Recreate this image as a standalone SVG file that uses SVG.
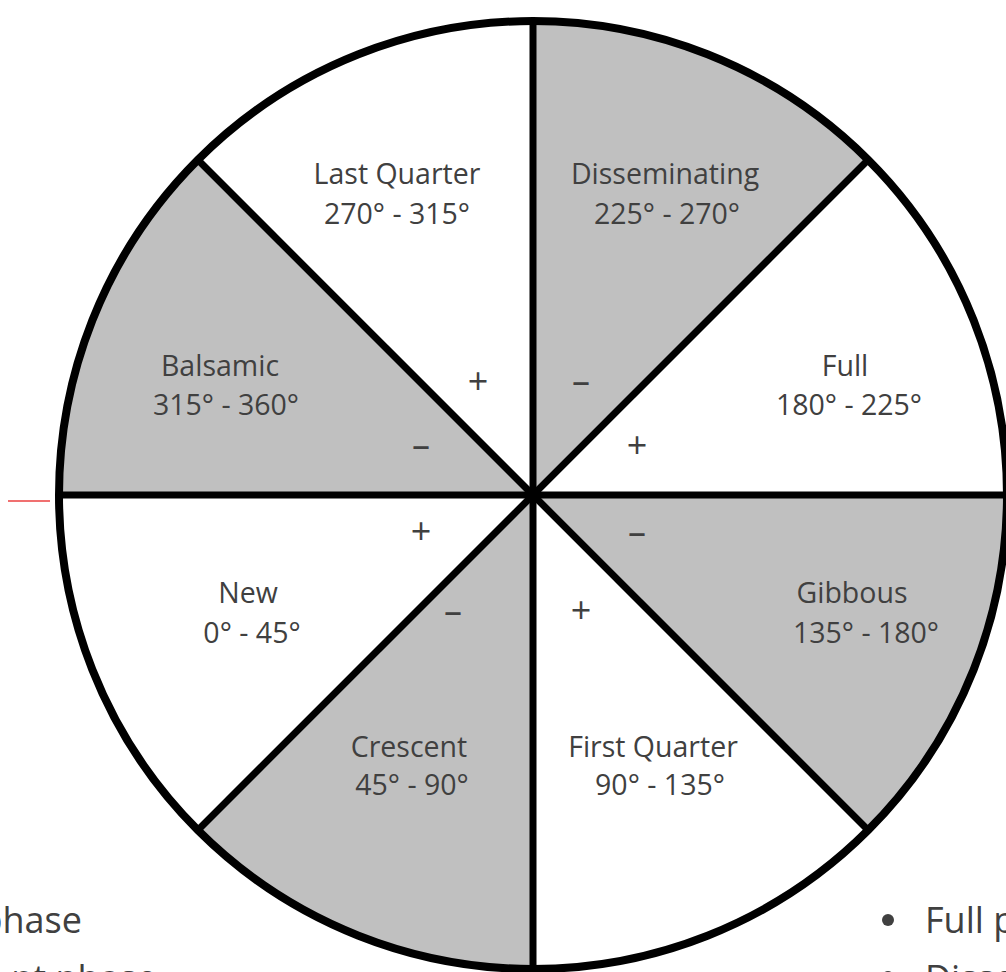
<svg xmlns="http://www.w3.org/2000/svg" width="1006" height="972" viewBox="0 0 1006 972">
<style>
.gray{fill:#c0c0c0;stroke:none}
.white{fill:#ffffff;stroke:none}
.lbl{font-family:"Open Sans","Noto Sans",sans-serif;font-size:28.5px;fill:#404040;text-anchor:middle}
.sign{font-family:"Open Sans","Noto Sans",sans-serif;font-size:36px;fill:#404040;text-anchor:middle}
.spoke{stroke:#000;stroke-width:7;fill:none}
.legend{font-family:"Open Sans","Noto Sans",sans-serif;font-size:36px;fill:#404040}
</style>
<rect x="0" y="0" width="1006" height="972" fill="#ffffff"/>
<g id="disseminating">
<path class="gray" d="M533,495 L533,21 A474,474 0 0 1 868.2,159.8 Z"/>
<text class="lbl" x="665" y="184">Disseminating</text>
<text class="lbl" x="667" y="224">225° - 270°</text>
</g>
<g id="full">
<path class="white" d="M533,495 L868.2,159.8 A474,474 0 0 1 1007,495 Z"/>
<text class="lbl" x="845" y="376">Full</text>
<text class="lbl" x="849" y="415">180° - 225°</text>
</g>
<g id="gibbous">
<path class="gray" d="M533,495 L1007,495 A474,474 0 0 1 868.2,830.2 Z"/>
<text class="lbl" x="852" y="603">Gibbous</text>
<text class="lbl" x="866" y="643">135° - 180°</text>
</g>
<g id="first-quarter">
<path class="white" d="M533,495 L868.2,830.2 A474,474 0 0 1 533,969 Z"/>
<text class="lbl" x="653" y="757">First Quarter</text>
<text class="lbl" x="660" y="795">90° - 135°</text>
</g>
<g id="crescent">
<path class="gray" d="M533,495 L533,969 A474,474 0 0 1 197.8,830.2 Z"/>
<text class="lbl" x="409" y="757">Crescent</text>
<text class="lbl" x="412" y="795">45° - 90°</text>
</g>
<g id="new">
<path class="white" d="M533,495 L197.8,830.2 A474,474 0 0 1 59,495 Z"/>
<text class="lbl" x="248" y="603">New</text>
<text class="lbl" x="252" y="643">0° - 45°</text>
</g>
<g id="balsamic">
<path class="gray" d="M533,495 L59,495 A474,474 0 0 1 197.8,159.8 Z"/>
<text class="lbl" x="220" y="376">Balsamic</text>
<text class="lbl" x="226" y="415">315° - 360°</text>
</g>
<g id="last-quarter">
<path class="white" d="M533,495 L197.8,159.8 A474,474 0 0 1 533,21 Z"/>
<text class="lbl" x="397" y="184">Last Quarter</text>
<text class="lbl" x="397" y="224">270° - 315°</text>
</g>
<g id="connectors">
<line class="spoke" x1="59" y1="495" x2="1007" y2="495"/>
<line class="spoke" x1="533" y1="21" x2="533" y2="969"/>
<line class="spoke" x1="197.8" y1="159.8" x2="868.2" y2="830.2"/>
<line class="spoke" x1="197.8" y1="830.2" x2="868.2" y2="159.8"/>
<circle cx="533" cy="495" r="474" fill="none" stroke="#000" stroke-width="8"/>
<circle cx="533" cy="495" r="8" fill="#000"/>
</g>
<g id="signs">
<text class="sign" x="478" y="394">+</text>
<text class="sign" x="581" y="394">–</text>
<text class="sign" x="421" y="458">–</text>
<text class="sign" x="637" y="458">+</text>
<text class="sign" x="421" y="544">+</text>
<text class="sign" x="637" y="545">–</text>
<text class="sign" x="453" y="624">–</text>
<text class="sign" x="581" y="623">+</text>
</g>
<line x1="8" y1="501" x2="50" y2="501" stroke="#f07070" stroke-width="2"/>
<g id="legend-left">
<text class="legend" x="82" y="933" text-anchor="end">phase</text>
<text class="legend" x="157" y="991" text-anchor="end">nt phase</text>
</g>
<g id="legend-right">
<circle cx="888" cy="920" r="6" fill="#404040"/>
<text class="legend" x="925" y="933">Full phase</text>
<circle cx="888" cy="977" r="6" fill="#404040"/>
<text class="legend" x="925" y="991">Disseminating phase</text>
</g>
</svg>
